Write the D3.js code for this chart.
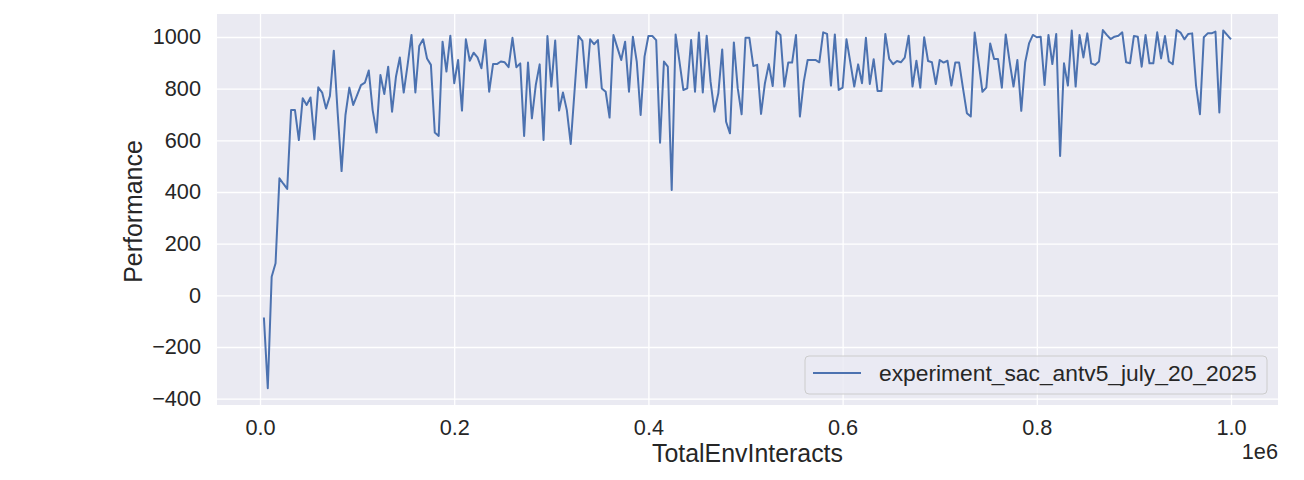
<!DOCTYPE html>
<html>
<head>
<meta charset="utf-8">
<script src="https://cdn.jsdelivr.net/npm/d3@7"></script>
<style>
  html, body { margin: 0; padding: 0; background: #ffffff; }
  svg { display: block; font-family: "Liberation Sans", Arial, sans-serif; }
</style>
</head>
<body>
<div id="wrapper"></div>
<script>
// SpinningUp style log: one row per epoch, 4000 env steps per epoch
const seriesName = "experiment_sac_antv5_july_20_2025"
const stepsPerEpoch = 4000
const performance = [
  -86, -360, 72, 124, 453, 432, 412, 717, 717, 601,
  763, 737, 766, 604, 805, 785, 723, 772, 947, 705,
  481, 698, 804, 737, 775, 814, 823, 870, 717, 630,
  853, 779, 885, 711, 846, 921, 785, 892, 1008, 785,
  965, 991, 917, 892, 630, 617, 982, 866, 1005, 821,
  911, 715, 991, 908, 939, 921, 879, 988, 788, 895,
  895, 905, 902, 883, 997, 883, 898, 617, 901, 685,
  814, 894, 601, 1004, 808, 986, 715, 785, 717, 586,
  795, 1004, 985, 804, 991, 972, 988, 801, 788, 688,
  1008, 959, 911, 982, 788, 1001, 905, 698, 924, 1004,
  1004, 988, 591, 905, 885, 408, 1010, 905, 795, 801,
  988, 788, 1017, 785, 1005, 827, 711, 782, 952, 672,
  627, 979, 801, 701, 997, 997, 888, 892, 702, 821,
  895, 810, 1021, 1008, 808, 901, 901, 1008, 692, 827,
  911, 911, 911, 902, 1018, 1012, 812, 1010, 795, 804,
  991, 901, 808, 894, 821, 997, 818, 914, 791, 791,
  1012, 915, 895, 907, 902, 920, 1005, 808, 908, 804,
  999, 907, 902, 818, 911, 901, 908, 812, 901, 901,
  801, 705, 692, 1017, 905, 788, 804, 975, 915, 915,
  804, 1010, 905, 808, 911, 714, 901, 975, 1008, 999,
  1001, 814, 1008, 895, 1012, 539, 898, 812, 1025, 808,
  1008, 921, 1014, 898, 892, 905, 1027, 1008, 992, 1001,
  1005, 1018, 902, 898, 1004, 1001, 885, 1008, 898, 898,
  1018, 917, 1004, 905, 895, 1027, 1017, 991, 1012, 1014,
  812, 701, 999, 1014, 1014, 1021, 708, 1025, 1008, 991,
]
const xTicks = [0, 200000, 400000, 600000, 800000, 1000000]
const xTickLabels = ["0.0", "0.2", "0.4", "0.6", "0.8", "1.0"]
const yTicks = [-400, -200, 0, 200, 400, 600, 800, 1000]

function drawChart() {

  // 1. Data
  const dataset = performance.map((p, i) => ({
    TotalEnvInteracts: (i + 1) * stepsPerEpoch,
    Performance: p,
  }))
  const xAccessor = d => d.TotalEnvInteracts
  const yAccessor = d => d.Performance

  // 2. Dimensions
  let dimensions = {
    width: 1304,
    height: 480,
    margin: { top: 14, right: 26, bottom: 75, left: 217 },
  }
  dimensions.boundedWidth = dimensions.width
    - dimensions.margin.left
    - dimensions.margin.right
  dimensions.boundedHeight = dimensions.height
    - dimensions.margin.top
    - dimensions.margin.bottom

  // 3. Canvas
  const wrapper = d3.select("#wrapper")
    .append("svg")
      .attr("width", dimensions.width)
      .attr("height", dimensions.height)

  const bounds = wrapper.append("g")
      .attr("transform", `translate(${dimensions.margin.left},${dimensions.margin.top})`)

  bounds.append("rect")
      .attr("width", dimensions.boundedWidth)
      .attr("height", dimensions.boundedHeight)
      .attr("fill", "#eaeaf2")

  // 4. Scales (matplotlib style padded limits)
  const xScale = d3.scaleLinear()
    .domain([-44300, 1048400])
    .range([0, dimensions.boundedWidth])

  const yScale = d3.scaleLinear()
    .domain([-424.6, 1089])
    .range([dimensions.boundedHeight, 0])

  // 5. Grid + axes
  const xAxisGenerator = d3.axisBottom(xScale)
    .tickValues(xTicks)
    .tickFormat((d, i) => xTickLabels[i])
    .tickSizeInner(-dimensions.boundedHeight)
    .tickSizeOuter(0)
    .tickPadding(15)

  const xAxis = bounds.append("g")
      .attr("transform", `translate(0,${dimensions.boundedHeight})`)
      .call(xAxisGenerator)

  const yAxisGenerator = d3.axisLeft(yScale)
    .tickValues(yTicks)
    .tickFormat(d3.format("d"))
    .tickSizeInner(-dimensions.boundedWidth)
    .tickSizeOuter(0)
    .tickPadding(16)

  const yAxis = bounds.append("g")
      .call(yAxisGenerator)

  for (const axis of [xAxis, yAxis]) {
    axis.select(".domain").remove()
    axis.selectAll(".tick line")
        .attr("stroke", "#ffffff")
        .attr("stroke-width", 1.3)
    axis.selectAll(".tick text")
        .attr("fill", "#262626")
        .style("font-size", "21.7px")
        .style("font-family", "'Liberation Sans', Arial, sans-serif")
  }

  // 6. Line
  const lineGenerator = d3.line()
    .x(d => xScale(xAccessor(d)))
    .y(d => yScale(yAccessor(d)))

  bounds.append("path")
      .datum(dataset)
      .attr("d", lineGenerator)
      .attr("fill", "none")
      .attr("stroke", "#4c72b0")
      .attr("stroke-width", 2)
      .attr("stroke-linejoin", "round")

  // 7. Labels
  bounds.append("text")
      .attr("x", dimensions.boundedWidth / 2)
      .attr("y", dimensions.boundedHeight + 57)
      .attr("text-anchor", "middle")
      .attr("fill", "#262626")
      .style("font-size", "24.9px")
      .text("TotalEnvInteracts")

  bounds.append("text")
      .attr("x", dimensions.boundedWidth)
      .attr("y", dimensions.boundedHeight + 54)
      .attr("text-anchor", "end")
      .attr("fill", "#262626")
      .style("font-size", "21.7px")
      .text("1e6")

  bounds.append("text")
      .attr("transform", `translate(${142 - dimensions.margin.left},${dimensions.boundedHeight / 2 + 2}) rotate(-90)`)
      .attr("text-anchor", "middle")
      .attr("fill", "#262626")
      .style("font-size", "24.9px")
      .text("Performance")

  // 8. Legend
  const legend = bounds.append("g")
      .attr("transform", `translate(${805 - dimensions.margin.left},${356 - dimensions.margin.top})`)

  legend.append("rect")
      .attr("width", 462)
      .attr("height", 38)
      .attr("rx", 4)
      .attr("fill", "#eaeaf2")
      .attr("fill-opacity", 0.8)
      .attr("stroke", "#cccccc")
      .attr("stroke-width", 1)

  legend.append("line")
      .attr("x1", 8)
      .attr("x2", 56)
      .attr("y1", 17)
      .attr("y2", 17)
      .attr("stroke", "#4c72b0")
      .attr("stroke-width", 2)

  legend.append("text")
      .attr("x", 74)
      .attr("y", 25)
      .attr("fill", "#262626")
      .style("font-size", "22.8px")
      .text(seriesName)
}
drawChart()
</script>
</body>
</html>
